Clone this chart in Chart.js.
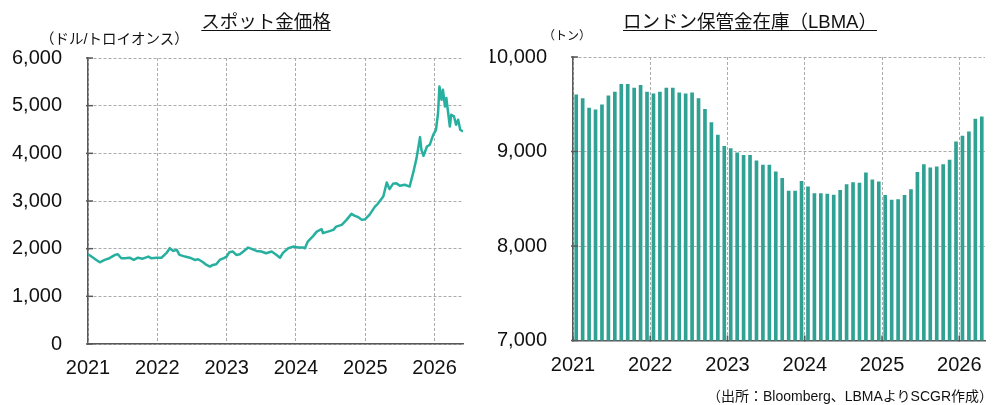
<!DOCTYPE html>
<html><head><meta charset="utf-8">
<script src="https://cdn.jsdelivr.net/npm/chart.js@4.4.1/dist/chart.umd.min.js"></script>
<style>
html,body{margin:0;padding:0;background:#fff;width:995px;height:405px;overflow:hidden;}
canvas{position:absolute;top:0;}
#c1{left:0;}
#c2{left:490px;}
.t{position:absolute;font-family:"Liberation Sans","Noto Sans CJK JP",sans-serif;color:#111;white-space:nowrap;}
.title{font-size:18.5px;line-height:22px;text-decoration:underline;text-underline-offset:2px;text-align:center;}
</style></head><body>
<canvas id="c1" width="490" height="405"></canvas>
<canvas id="c2" width="505" height="405"></canvas>
<div class="t title" style="left:166px;top:11px;width:200px;">スポット金価格</div>
<div class="t title" style="left:550px;top:11px;width:400px;">ロンドン保管金在庫（LBMA）</div>
<div class="t" style="left:40px;top:31px;font-size:14.5px;line-height:16px;">（ドル/トロイオンス）</div>
<div class="t" style="left:543px;top:29px;font-size:12px;line-height:14px;">（トン）</div>
<div class="t" style="right:2px;top:388px;font-size:14px;line-height:16px;">（出所：Bloomberg、LBMAよりSCGR作成）</div>
<script>
// ---- Data ----
const goldDates = [
2021.00,2021.05,2021.12,2021.17,2021.24,2021.31,2021.39,2021.43,2021.48,2021.53,2021.60,2021.66,2021.72,2021.79,2021.87,2021.91,2021.99,
2022.06,2022.13,2022.18,2022.23,2022.28,2022.32,2022.40,2022.47,2022.54,2022.59,2022.66,2022.71,2022.76,2022.80,2022.85,2022.90,2022.96,
2023.00,2023.04,2023.09,2023.14,2023.19,2023.25,2023.31,2023.36,2023.43,2023.50,2023.57,2023.65,2023.72,2023.77,2023.81,2023.89,2023.96,
2024.03,2024.10,2024.13,2024.17,2024.25,2024.30,2024.37,2024.39,2024.46,2024.54,2024.58,2024.66,2024.73,2024.80,2024.85,2024.90,2024.95,
2025.00,2025.06,2025.14,2025.18,2025.26,2025.31,2025.35,2025.40,2025.45,2025.50,2025.57,2025.64,2025.69,2025.74,2025.79,2025.81,2025.84,2025.89,2025.93,2025.98,
2026.02,2026.05,2026.07,2026.10,2026.12,2026.15,2026.17,2026.19,2026.22,2026.24,2026.28,2026.31,2026.34,2026.37,2026.41];
const goldPrice = [
1884,1834,1764,1715,1764,1800,1869,1884,1800,1800,1810,1764,1810,1790,1834,1800,1810,
1810,1905,2010,1953,1975,1869,1834,1810,1764,1778,1715,1659,1624,1659,1673,1764,1800,
1834,1926,1940,1869,1884,1953,2023,1996,1953,1940,1905,1940,1869,1810,1905,2010,2044,
2023,2023,2010,2148,2268,2358,2408,2325,2358,2394,2463,2499,2604,2730,2688,2660,2604,
2618,2709,2883,2940,3093,3387,3249,3360,3370,3318,3340,3303,3584,3900,4340,4074,3948,4143,4179,4389,
4494,4845,5403,5124,5334,4983,5159,4914,4563,4809,4774,4599,4704,4494,4458];
const goldYearTicks = [2021,2022,2023,2024,2025,2026];
const goldYTicks = [0,1000,2000,3000,4000,5000,6000];

const stockTons = [
9600,9560,9460,9440,9495,9590,9630,9710,9710,9670,9700,9630,
9610,9630,9670,9670,9620,9610,9620,9560,9445,9305,9175,9055,
9030,8985,8960,8960,8900,8855,8855,8785,8715,8580,8580,8685,
8625,8555,8555,8550,8540,8590,8650,8670,8665,8775,8700,8680,
8537,8485,8490,8537,8597,8780,8862,8826,8837,8862,8908,9102,
9162,9208,9343,9367];
const stockYearLabels = ['2021','2022','2023','2024','2025','2026'];
const stockYearStart = [0,12,24,36,48,60];
const stockYTicks = [7000,8000,9000,10000];

// ---- Styles ----
const LINE = '#27b09f';
const BAR = '#2fa294';
const GRID = '#ababab';
const AXIS = '#595959';
const NUMFONT = {family:'"Liberation Sans", Arial, sans-serif', size:20};

const innerTicks = {
  id:'innerTicks',
  afterDraw(chart, args, opts){
    const {ctx, chartArea:a, scales:{x,y}} = chart;
    ctx.save();
    ctx.strokeStyle = AXIS; ctx.lineWidth = 1.5; ctx.setLineDash([]);
    y.ticks.forEach(t=>{const p=y.getPixelForValue(t.value); ctx.beginPath(); ctx.moveTo(a.left-2,p); ctx.lineTo(a.left+5,p); ctx.stroke();});
    if (opts.x) x.ticks.forEach(t=>{const p=x.getPixelForValue(t.value); ctx.beginPath(); ctx.moveTo(p,a.bottom+1); ctx.lineTo(p,a.bottom-5); ctx.stroke();});
    ctx.restore();
  }
};

const common = {responsive:false, animation:false, events:[], devicePixelRatio:1};

new Chart(document.getElementById('c1'), {
  type:'line',
  data:{datasets:[{data:goldDates.map((d,i)=>({x:d,y:goldPrice[i]})), borderColor:LINE, borderWidth:2.5, pointRadius:0, tension:0, fill:false, borderJoinStyle:'round'}]},
  options:Object.assign({}, common, {
    layout:{padding:{left:0,right:27,top:58,bottom:0}},
    plugins:{legend:{display:false}, tooltip:{enabled:false}, innerTicks:{x:false}},
    scales:{
      x:{type:'linear', min:2021, max:2026.41,
         afterBuildTicks:s=>{s.ticks=goldYearTicks.map(v=>({value:v}));},
         afterFit:s=>{s.height=61;},
         ticks:{callback:v=>String(v), font:NUMFONT, color:'#111', padding:12, maxRotation:0, autoSkip:false},
         grid:{color:GRID, lineWidth:1, drawTicks:false},
         border:{display:true, color:AXIS, width:1.5, dash:[3,2]}},
      y:{type:'linear', min:0, max:6000,
         afterBuildTicks:s=>{s.ticks=goldYTicks.map(v=>({value:v}));},
         afterFit:s=>{s.width=88;},
         ticks:{callback:v=>v.toLocaleString('en-US'), font:NUMFONT, color:'#111', padding:26},
         grid:{color:GRID, lineWidth:1, drawTicks:false},
         border:{display:true, color:AXIS, width:1.5, dash:[3,2]}}
    }
  }),
  plugins:[innerTicks]
});

new Chart(document.getElementById('c2'), {
  type:'bar',
  data:{datasets:[{data:stockTons.map((v,i)=>({x:i+0.5,y:v})), backgroundColor:BAR, borderWidth:0, barThickness:3}]},
  options:Object.assign({}, common, {
    layout:{padding:{left:0,right:8,top:57,bottom:0}},
    plugins:{legend:{display:false}, tooltip:{enabled:false}, innerTicks:{x:true}},
    scales:{
      x:{type:'linear', min:0, max:64, offset:false,
         afterBuildTicks:s=>{s.ticks=stockYearStart.map(v=>({value:v}));},
         afterFit:s=>{s.height=64.5;},
         ticks:{callback:(v,i)=>stockYearLabels[i], font:NUMFONT, color:'#111', padding:13, maxRotation:0, autoSkip:false},
         grid:{color:GRID, lineWidth:1, drawTicks:false, offset:false},
         border:{display:true, color:AXIS, width:1.5, dash:[3,2]}},
      y:{type:'linear', min:7000, max:10000,
         afterBuildTicks:s=>{s.ticks=stockYTicks.map(v=>({value:v}));},
         afterFit:s=>{s.width=83;},
         ticks:{callback:v=>v.toLocaleString('en-US'), font:NUMFONT, color:'#111', padding:26},
         grid:{color:GRID, lineWidth:1, drawTicks:false},
         border:{display:true, color:AXIS, width:1.5, dash:[3,2]}}
    }
  }),
  plugins:[innerTicks]
});
</script>
</body></html>
